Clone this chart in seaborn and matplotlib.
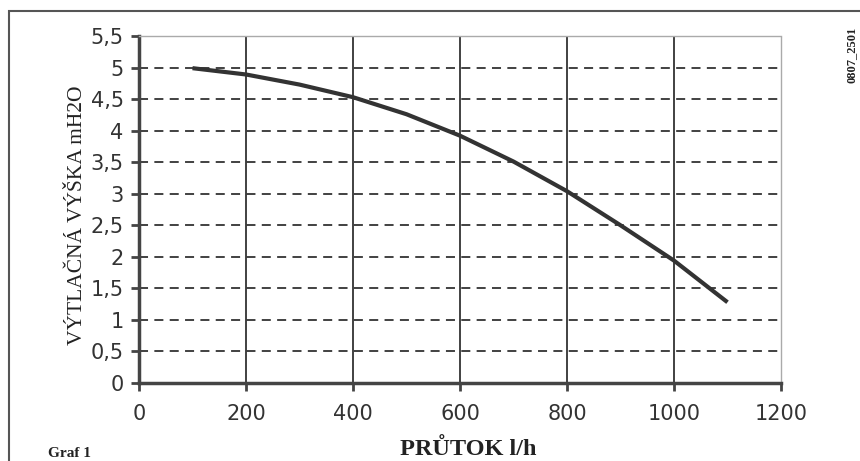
import matplotlib
matplotlib.use("Agg")
import matplotlib.pyplot as plt
import seaborn as sns
import pandas as pd
from matplotlib.patches import Rectangle

# data
flow_lh = [100, 200, 300, 400, 500, 600, 700, 800, 900, 1000, 1100]
head_m = [4.99, 4.89, 4.73, 4.53, 4.26, 3.92, 3.51, 3.04, 2.50, 1.94, 1.28]
x_ticks = [0, 200, 400, 600, 800, 1000, 1200]
y_ticks = [0, 0.5, 1, 1.5, 2, 2.5, 3, 3.5, 4, 4.5, 5, 5.5]
y_tick_labels = ["0", "0,5", "1", "1,5", "2", "2,5", "3", "3,5", "4", "4,5", "5", "5,5"]
x_label = "PRŮTOK l/h"
y_label = "VÝTLAČNÁ VÝŠKA mH2O"
caption = "Graf 1"
code = "0807_2501"

df = pd.DataFrame({"flow": flow_lh, "head": head_m})

sns.set_style("white")
plt.rcParams["font.family"] = ["DejaVu Sans"]

W, H = 860, 461
fig = plt.figure(figsize=(W / 100, H / 100), dpi=100)
ax = fig.add_axes([139 / W, (H - 383) / H, (781 - 139) / W, (383 - 36) / H])

sns.lineplot(data=df, x="flow", y="head", ax=ax, color="#333333", linewidth=3.0,
             solid_capstyle="butt", zorder=5)

ax.set_xlim(0, 1200)
ax.set_ylim(0, 5.5)
ax.set_xticks(x_ticks)
ax.set_xticklabels([str(v) for v in x_ticks])
ax.set_yticks(y_ticks)
ax.set_yticklabels(y_tick_labels)

# grid lines
for yv in y_ticks[1:-1]:
    ax.axhline(yv, color="#333333", lw=1.3, ls=(0, (5, 3.5)), zorder=2)
for xv in x_ticks[1:-1]:
    ax.axvline(xv, color="#333333", lw=1.3, zorder=2)

for s in ["left", "bottom"]:
    ax.spines[s].set_color("#444444")
    ax.spines[s].set_linewidth(2.5)
for s in ["top", "right"]:
    ax.spines[s].set_color("#aaaaaa")
    ax.spines[s].set_linewidth(1.0)
    ax.spines[s].set_linestyle((0, (1, 1)))

ax.tick_params(axis="both", which="major", direction="out", length=6, width=2,
               color="#444444", labelcolor="#333333", labelsize=15,
               bottom=True, left=True)
ax.tick_params(axis="y", pad=5)
ax.tick_params(axis="x", pad=9)
ax.set_xlabel("")
ax.set_ylabel("")

serif = ["Liberation Serif", "DejaVu Serif"]
fig.text(77 / W, 1 - 215 / H, y_label, rotation=90, ha="center", va="center",
         fontsize=15.5, family=serif, color="#222222")
fig.text(468 / W, 1 - 455 / H, x_label, ha="center", va="baseline",
         fontsize=17.5, fontweight="bold", family=serif, color="#222222")
fig.text(48 / W, 1 - 457 / H, caption, ha="left", va="baseline",
         fontsize=11, fontweight="bold", family=serif, color="#222222")
fig.text(852 / W, 1 - 55 / H, code, rotation=90, ha="center", va="center",
         fontsize=9, fontweight="bold", family=serif, color="#222222")

# frame around figure
fig.patches.append(Rectangle((9 / W, -0.1), 1.2, 1 - 11 / H + 0.1, transform=fig.transFigure,
                             fill=False, edgecolor="#555555", linewidth=1.5))

fig.savefig("out.png", dpi=100)
